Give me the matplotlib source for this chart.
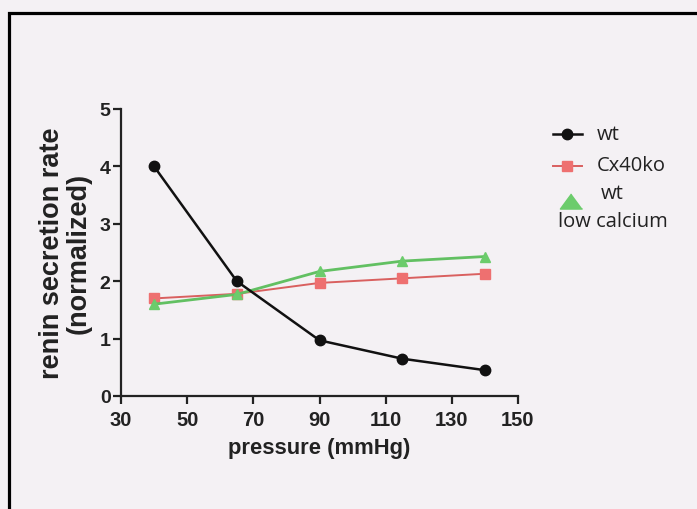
import matplotlib
matplotlib.use("Agg")
import matplotlib.pyplot as plt
from matplotlib.lines import Line2D
from matplotlib.patches import Rectangle

pressure = [40, 65, 90, 115, 140]
wt = [4.0, 2.0, 0.97, 0.65, 0.45]
cx40ko = [1.70, 1.78, 1.97, 2.05, 2.13]
wt_low_ca = [1.60, 1.77, 2.17, 2.35, 2.43]
x_ticks = [30, 50, 70, 90, 110, 130, 150]
y_ticks = [0, 1, 2, 3, 4, 5]

bg = "#f4f1f4"
red_line = "#d9605f"
red_marker = "#ee7070"
green_line = "#62c062"
green_marker = "#6ccc6c"
ink = "#222222"

fig = plt.figure(figsize=(6.97, 5.10), dpi=100, facecolor=bg)
fig.patches.append(Rectangle((9/697, -0.01), 1.0, 1 - 13.5/510 + 0.01, transform=fig.transFigure,
                             fill=False, edgecolor="black", linewidth=2.3, zorder=10))

ax = fig.add_axes([121/697, 1 - 397/510, (518 - 121)/697, (397 - 110)/510])
ax.set_facecolor(bg)

ax.plot(pressure, cx40ko, color=red_line, lw=1.4, marker="s", ms=7.5,
        mfc=red_marker, mec=red_marker, zorder=3)
ax.plot(pressure, wt_low_ca, color=green_line, lw=2.0, marker="^", ms=7.5,
        mfc=green_marker, mec=green_marker, zorder=4)
ax.plot(pressure, wt, color="#111111", lw=1.8, marker="o", ms=7.5,
        mfc="#111111", mec="#111111", zorder=5)

ax.set_xlim(30, 150)
ax.set_ylim(0, 5)
ax.set_xticks(x_ticks)
ax.set_yticks(y_ticks)
for s in ["top", "right"]:
    ax.spines[s].set_visible(False)
for s in ["left", "bottom"]:
    ax.spines[s].set_linewidth(1.6)
    ax.spines[s].set_color(ink)
ax.tick_params(direction="out", length=6, width=1.6, color=ink)
ax.tick_params(axis="x", pad=4)
ax.tick_params(axis="y", pad=1.5)
for lab in ax.get_xticklabels():
    lab.set_fontfamily("Liberation Sans")
    lab.set_fontweight("bold")
    lab.set_fontsize(14.5)
    lab.set_color(ink)
for lab in ax.get_yticklabels():
    lab.set_fontfamily("Liberation Sans")
    lab.set_fontweight("bold")
    lab.set_fontsize(14)
    lab.set_color(ink)

ax.set_xlabel("pressure (mmHg)", fontsize=15.8, fontweight="bold",
              family="Liberation Sans", color=ink, labelpad=6)
ax.set_ylabel("renin secretion rate\n(normalized)", fontsize=19.5, fontweight="bold",
              family="Liberation Sans", color=ink, labelpad=6, linespacing=1.0)

# legend (manual)
def fx(px):
    return px / 697
def fy(py):
    return 1 - py / 510

fig.add_artist(Line2D([fx(553), fx(582)], [fy(135), fy(135)], color="#111111", lw=1.8,
                      transform=fig.transFigure))
fig.add_artist(Line2D([fx(567)], [fy(135)], color="#111111", marker="o", ms=7.5,
                      transform=fig.transFigure, lw=0))
fig.add_artist(Line2D([fx(553), fx(582)], [fy(167), fy(167)], color=red_line, lw=1.4,
                      transform=fig.transFigure))
fig.add_artist(Line2D([fx(567)], [fy(167)], color=red_marker, marker="s", ms=7.5,
                      transform=fig.transFigure, lw=0))
tri = [(0, 0.68), (-1, -0.68), (1, -0.68)]
fig.add_artist(Line2D([fx(571)], [fy(202)], color=green_marker, marker=tri, ms=16,
                      transform=fig.transFigure, lw=0))

lfont = dict(family="Open Sans", fontsize=14.5, color=ink, va="center", ha="left",
             transform=fig.transFigure)
fig.text(fx(597), fy(135), "wt", **lfont)
fig.text(fx(597), fy(166), "Cx40ko", **lfont)
fig.text(fx(601), fy(194), "wt", **lfont)
fig.text(fx(558), fy(222), "low calcium", **lfont)

fig.savefig("out.png", dpi=100, facecolor=bg)
